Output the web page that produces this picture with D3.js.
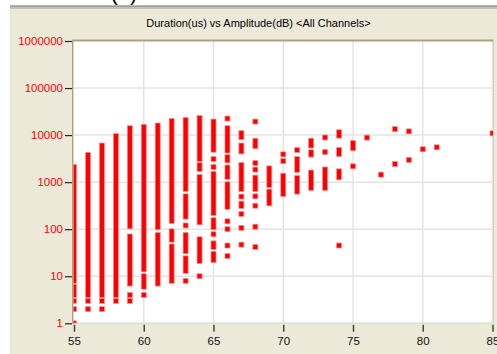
<!DOCTYPE html>
<html>
<head>
<meta charset="utf-8">
<script src="https://cdn.jsdelivr.net/npm/d3@7"></script>
<style>
  html, body { margin: 0; padding: 0; background: #ffffff; }
  svg { display: block; }
  text { font-family: "Liberation Sans", Arial, sans-serif; }
</style>
</head>
<body>
<svg id="chart" width="497" height="354"></svg>
<script>
// Amplitude bins (dB) that contain hits
const amplitudes = [55, 56, 57, 58, 59, 60, 61, 62, 63, 64, 65, 66, 67, 68, 69, 70,
                    71, 72, 73, 74, 75, 76, 77, 78, 79, 80, 81, 85];

// Duration (us) runs of hits for each amplitude bin: [low, high]; a single hit is [v, v]
const durationRuns = [
  [[8, 2100], [4, 6], [3, 3], [2, 2], [1, 1]],
  [[4, 3800], [3, 3], [2, 2]],
  [[4, 6000], [3, 3], [2, 2]],
  [[4, 9500], [3, 3]],
  [[115, 14000], [7, 70], [4, 4], [3, 3]],
  [[14, 15000], [6, 10], [4, 4]],
  [[110, 16000], [7, 75]],
  [[150, 20000], [60, 90], [8, 43]],
  [[720, 21000], [185, 500], [120, 120], [34, 75], [13, 24], [8, 8]],
  [[3100, 23000], [1900, 2300], [140, 1280], [21, 61], [10, 10]],
  [[4900, 19400], [3100, 3100], [2100, 2100], [220, 1500], [110, 155], [78, 78], [42, 50], [22, 30]],
  [[22500, 22500], [4700, 14000], [2900, 3400], [1300, 2050], [300, 900], [147, 147], [100, 100], [45, 45], [27, 27]],
  [[9000, 11000], [4500, 6000], [710, 2300], [494, 494], [310, 350], [210, 210], [107, 107], [47, 47]],
  [[19400, 19400], [5800, 7600], [2550, 2550], [1850, 1850], [710, 1250], [500, 500], [316, 316], [113, 113], [42, 42]],
  [[870, 1960], [354, 630]],
  [[3900, 3900], [2800, 2800], [560, 1370]],
  [[4800, 4800], [1830, 3100], [630, 1230]],
  [[6000, 7600], [3850, 4300], [750, 1600]],
  [[8900, 8900], [4370, 4370], [750, 1860]],
  [[9750, 11500], [3960, 4820], [1265, 1700], [45, 45]],
  [[5250, 6800], [2170, 2170]],
  [[8850, 8850]],
  [[1445, 1445]],
  [[13400, 13400], [2430, 2430]],
  [[12000, 12000], [2980, 2980]],
  [[5000, 5000]],
  [[5500, 5500]],
  [[10900, 10900]]
];

// Axis ticks and labels
const xTicks = [55, 60, 65, 70, 75, 80, 85];
const yTicks = [1, 10, 100, 1000, 10000, 100000, 1000000];
const chartTitle = "Duration(us) vs Amplitude(dB) <All Channels>";

const svg = d3.select("#chart");

// Window frame: white margin, grey rule, beige panel
svg.append("rect").attr("x", 0).attr("y", 0).attr("width", 497).attr("height", 354).attr("fill", "#ffffff");
svg.append("text").attr("x", 124).attr("y", -0.5).attr("text-anchor", "middle")
  .attr("font-family", "Liberation Serif, serif").attr("font-size", 22).attr("fill", "#000").text("(b)");
svg.append("rect").attr("x", 10).attr("y", 5.5).attr("width", 487).attr("height", 348.5).attr("fill", "#ece9d8");
svg.append("rect").attr("x", 10).attr("y", 5.5).attr("width", 487).attr("height", 1.3).attr("fill", "#7f7f7f");
svg.append("rect").attr("x", 10).attr("y", 6.8).attr("width", 487).attr("height", 2.2).attr("fill", "#c4c2b6");

// Title
svg.append("text").attr("x", 258.5).attr("y", 27).attr("text-anchor", "middle")
  .attr("font-size", 11).attr("fill", "#000").text(chartTitle);

const plot = { left: 74, right: 492.5, top: 41, bottom: 323.3 };

const x = d3.scaleLinear().domain([55, 85]).range([plot.left, plot.right]);
const y = d3.scaleLog().domain([1, 1000000]).range([plot.bottom, plot.top]);

// Plot background
svg.append("rect").attr("x", plot.left - 0.6).attr("y", plot.top)
  .attr("width", plot.right - plot.left + 1.1).attr("height", plot.bottom - plot.top)
  .attr("fill", "#ffffff");

// Grid
const grid = svg.append("g").attr("stroke", "#e4e4e4").attr("stroke-width", 1.5);
grid.selectAll("line.v").data(xTicks.slice(1)).join("line").attr("class", "v")
  .attr("x1", d => x(d)).attr("x2", d => x(d)).attr("y1", plot.top).attr("y2", plot.bottom);
grid.selectAll("line.h").data(yTicks.slice(0, -1)).join("line").attr("class", "h")
  .attr("x1", plot.left).attr("x2", plot.right).attr("y1", d => y(d)).attr("y2", d => y(d));

// Markers, clipped to the plot area
svg.append("clipPath").attr("id", "plotClip").append("rect")
  .attr("x", plot.left - 0.6).attr("y", plot.top + 1)
  .attr("width", plot.right - plot.left + 1.6).attr("height", plot.bottom - plot.top - 0.5);

const half = 2.5;
const runs = amplitudes.flatMap((a, i) => durationRuns[i].map(r => ({ a, lo: r[0], hi: r[1] })));
svg.append("g").attr("clip-path", "url(#plotClip)")
  .selectAll("rect").data(runs).join("rect")
  .attr("x", d => x(d.a) - half)
  .attr("y", d => y(d.hi) - half)
  .attr("width", half * 2)
  .attr("height", d => y(d.lo) - y(d.hi) + half * 2)
  .attr("fill", "#ff0000")
  .attr("stroke", "#ff9090")
  .attr("stroke-width", 0.7);

// Sunken border of the plot area
const border = svg.append("g");
border.append("line").attr("x1", plot.left - 1.3).attr("x2", plot.left - 1.3)
  .attr("y1", plot.top - 1).attr("y2", plot.bottom).attr("stroke", "#aca27e").attr("stroke-width", 1.4);
border.append("line").attr("x1", plot.left - 2).attr("x2", plot.right + 1)
  .attr("y1", plot.top - 0.5).attr("y2", plot.top - 0.5).attr("stroke", "#aca27e").attr("stroke-width", 2);
border.append("line").attr("x1", plot.right + 1).attr("x2", plot.right + 1)
  .attr("y1", plot.top).attr("y2", plot.bottom).attr("stroke", "#d6d3c6").attr("stroke-width", 1);
border.append("line").attr("x1", plot.left).attr("x2", plot.right + 1)
  .attr("y1", plot.bottom).attr("y2", plot.bottom).attr("stroke", "#dedbd0").attr("stroke-width", 1);

// Y axis (log durations)
const yAxis = svg.append("g").attr("transform", `translate(${plot.left - 2},0)`)
  .call(d3.axisLeft(y).tickValues(yTicks).tickFormat(d3.format("d")).tickSize(7).tickPadding(2));
yAxis.select(".domain").remove();
yAxis.selectAll(".tick line").attr("stroke", "#222").attr("stroke-width", 1.2);
yAxis.selectAll(".tick text").attr("fill", "#ff0000").attr("font-size", 11.5)
  .attr("font-family", "Liberation Sans, Arial, sans-serif");

// X axis (amplitude)
const xAxis = svg.append("g").attr("transform", `translate(0,${plot.bottom + 1.5})`)
  .call(d3.axisBottom(x).tickValues(xTicks).tickFormat(d3.format("d")).tickSize(7).tickPadding(5));
xAxis.select(".domain").remove();
xAxis.selectAll(".tick line").attr("stroke", "#444").attr("stroke-width", 1.5);
xAxis.selectAll(".tick text").attr("fill", "#111").attr("font-size", 11.5)
  .attr("font-family", "Liberation Sans, Arial, sans-serif");
</script>
</body>
</html>
